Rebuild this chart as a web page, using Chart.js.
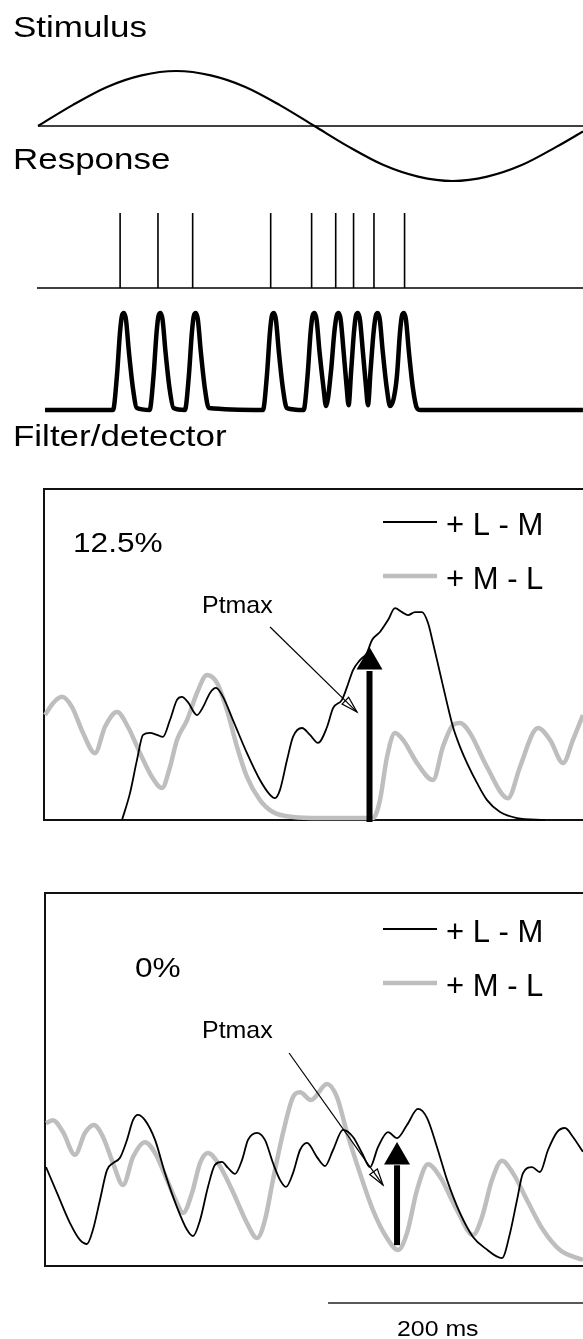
<!DOCTYPE html>
<html>
<head>
<meta charset="utf-8">
<style>
  html, body { margin: 0; padding: 0; background: #fff; }
  #fig { display: block; }
</style>
<script src="https://cdn.jsdelivr.net/npm/chart.js@4.4.1/dist/chart.umd.min.js"></script>
</head>
<body>
<canvas id="fig" width="583" height="1339"></canvas>
<script>
// stimulus: one cycle of the chromatic grating (relative amplitude)
var stimTimes = [0, 27.1, 54.2, 81.3, 108.4, 135.5, 162.6, 189.7, 216.8, 243.9, 271.0, 298.1, 325.2, 352.3, 379.4, 406.5, 427.4];
var stimValues = [0, 0.38, 0.71, 0.92, 1, 0.92, 0.71, 0.38, 0, -0.38, -0.71, -0.92, -1, -0.92, -0.71, -0.38, -0.1];

// spike times (ms)
var spikeTimes = [64.4, 94.1, 121.3, 182.5, 214.6, 233.5, 247.5, 263.5, 287.5];

// smoothed spike train
var respTimes = [5.5, 58.8, 61.9, 64.3, 65.8, 67.4, 69.0, 71.3, 74.5, 77.6,
  87.5, 90.6, 93.0, 94.5, 96.1, 97.7, 100.0, 103.2, 106.3,
  115.2, 118.3, 120.7, 122.2, 123.8, 125.4, 127.7, 130.9, 134.0,
  176.4, 179.5, 181.9, 183.4, 185.0, 186.6, 188.9, 192.1, 195.2,
  208.3, 211.4, 213.8, 215.3, 216.9, 218.5, 220.8, 224.0, 225.9,
  229.8, 232.4, 234.2, 235.8, 237.4, 239.7, 242.0, 243.6,
  245.6, 247.8, 249.3, 250.9, 252.5, 254.8, 257.2, 258.8,
  260.8, 263.2, 264.9, 266.5, 268.1, 270.4, 273.6, 276.2,
  279.0, 281.5, 283.9, 285.4, 287.0, 288.6, 290.9, 294.1, 297.2, 300.0, 427.4];
var respValues = [0, 0, 0.35, 0.8, 0.97, 1, 0.93, 0.6, 0.22, 0.02,
  0, 0.35, 0.8, 0.97, 1, 0.93, 0.6, 0.22, 0.02,
  0, 0.35, 0.8, 0.97, 1, 0.93, 0.6, 0.22, 0.02,
  0, 0.35, 0.8, 0.97, 1, 0.93, 0.6, 0.22, 0.02,
  0, 0.35, 0.8, 0.97, 1, 0.93, 0.6, 0.22, 0.04,
  0.4, 0.8, 0.97, 1, 0.93, 0.6, 0.25, 0.05,
  0.4, 0.8, 0.97, 1, 0.93, 0.6, 0.25, 0.05,
  0.4, 0.8, 0.97, 1, 0.93, 0.6, 0.22, 0.04,
  0.12, 0.35, 0.8, 0.97, 1, 0.93, 0.6, 0.22, 0.02, 0, 0];

// filter output, 12.5% condition
var lm125Times = [65.9, 72.2, 77.6, 82.4, 87.8, 93.3, 98.0, 103.5, 109.0, 112.9, 117.6, 124.7, 129.4, 134.9, 139.6,
  145.1, 152.9, 163.9, 174.1, 182.0, 185.9, 189.8, 195.3, 200.0, 207.1, 213.3, 219.6, 226.7, 231.4, 238.4,
  242.4, 247.1, 252.5, 258.0, 262.0, 268.2, 274.5, 280.0, 285.5, 290.2, 295.7, 301.2, 305.9, 309.8, 315.3,
  320.8, 325.5, 331.0, 336.5, 344.3, 352.2, 362.4, 375.7, 397.6];
var lm125 = [0, 0.082, 0.181, 0.257, 0.263, 0.257, 0.251, 0.302, 0.363, 0.372, 0.356, 0.317, 0.341, 0.384, 0.399,
  0.372, 0.302, 0.202, 0.121, 0.076, 0.066, 0.091, 0.181, 0.251, 0.278, 0.257, 0.233, 0.281, 0.338, 0.363,
  0.402, 0.453, 0.483, 0.505, 0.544, 0.568, 0.604, 0.640, 0.628, 0.619, 0.628, 0.628, 0.595, 0.535, 0.444,
  0.353, 0.281, 0.221, 0.172, 0.112, 0.060, 0.024, 0.006, 0];
var ml125Times = [5.5, 11.8, 18.8, 26.7, 35.3, 44.7, 52.5, 62.0, 70.6, 80.0, 89.4, 97.3, 103.5, 109.0, 116.9,
  124.7, 132.5, 140.4, 148.2, 156.1, 163.9, 174.1, 184.3, 200.0, 221.2, 262.7, 268.2, 273.7, 280.0, 286.3,
  297.3, 309.8, 317.6, 325.5, 331.0, 338.8, 352.2, 368.6, 378.0, 388.2, 392.2, 401.6, 411.8, 419.6, 427.4];
var ml125 = [0.317, 0.353, 0.372, 0.341, 0.263, 0.202, 0.281, 0.326, 0.281, 0.202, 0.130, 0.097, 0.160, 0.242, 0.302,
  0.384, 0.438, 0.414, 0.332, 0.221, 0.130, 0.060, 0.024, 0.009, 0.006, 0.006, 0.060, 0.190, 0.263, 0.242,
  0.172, 0.121, 0.221, 0.287, 0.293, 0.263, 0.160, 0.066, 0.160, 0.263, 0.278, 0.242, 0.172, 0.242, 0.317];

// filter output, 0% condition
var lm0Times = [6.3, 14.9, 25.1, 32.9, 38.4, 43.1, 48.6, 54.1, 58.8, 64.3, 69.8, 74.5, 78.4, 83.9, 91.8,
  99.6, 109.0, 116.9, 121.6, 127.1, 133.3, 138.8, 144.3, 149.0, 154.5, 160.0, 164.7, 171.8, 178.0, 184.3,
  189.8, 194.5, 200.0, 205.5, 211.0, 218.8, 225.1, 231.4, 239.2, 247.1, 254.1, 260.4, 266.7, 274.5, 281.6,
  289.4, 298.0, 305.1, 312.9, 320.8, 331.0, 341.2, 350.6, 363.9, 370.2, 375.7, 380.4, 387.5, 393.7, 400.0,
  407.1, 413.3, 419.6, 427.4];
var lm0 = [0.265, 0.196, 0.115, 0.070, 0.059, 0.097, 0.177, 0.257, 0.276, 0.290, 0.338, 0.391, 0.405, 0.391, 0.338,
  0.249, 0.158, 0.097, 0.080, 0.123, 0.212, 0.271, 0.279, 0.263, 0.247, 0.284, 0.338, 0.357, 0.338, 0.276,
  0.231, 0.212, 0.249, 0.311, 0.330, 0.292, 0.268, 0.311, 0.365, 0.346, 0.303, 0.265, 0.319, 0.359, 0.343,
  0.378, 0.421, 0.397, 0.319, 0.231, 0.142, 0.078, 0.048, 0.021, 0.088, 0.177, 0.249, 0.265, 0.252, 0.311,
  0.359, 0.370, 0.346, 0.306];
var ml0Times = [6.3, 11.8, 19.6, 29.0, 36.9, 43.9, 51.0, 58.8, 66.7, 74.5, 83.9, 91.8, 101.2, 109.0, 113.7,
  120.8, 127.1, 133.3, 141.2, 152.2, 163.9, 171.8, 178.0, 184.3, 192.2, 200.0, 205.5, 214.1, 226.7, 234.5,
  242.4, 252.5, 262.7, 273.7, 282.4, 289.4, 297.3, 305.9, 315.3, 328.6, 341.2, 348.2, 356.1, 363.9, 372.5,
  383.5, 396.1, 409.4, 427.4];
var ml0 = [0.383, 0.391, 0.359, 0.298, 0.357, 0.378, 0.346, 0.276, 0.217, 0.292, 0.332, 0.303, 0.231, 0.169, 0.142,
  0.196, 0.276, 0.303, 0.276, 0.204, 0.115, 0.075, 0.123, 0.231, 0.357, 0.453, 0.466, 0.445, 0.488, 0.453,
  0.357, 0.249, 0.150, 0.075, 0.043, 0.088, 0.204, 0.273, 0.239, 0.150, 0.083, 0.131, 0.231, 0.282, 0.249,
  0.177, 0.097, 0.043, 0.016];

// detected time of maximum (ms) for each condition
var ptmaxTimes = [260.0, 281.6];

var W = 583, H = 1339;
var X0 = 38, PX_PER_MS = 1.275;
var GRAY = '#bebebe';

// value 0 sits at zeroPx, value 1 at onePx
function band(zeroPx, onePx) {
  var k = zeroPx - onePx;
  return { type: 'linear', display: false, min: (zeroPx - H) / k, max: zeroPx / k };
}

function pts(xs, ys) {
  return xs.map(function(x, i) { return { x: x, y: ys[i] }; });
}

var spikePts = [];
spikeTimes.forEach(function(t) {
  spikePts.push({ x: t, y: 0 }, { x: t, y: 1 }, { x: t, y: null });
});

var xEnd = (W - X0) / PX_PER_MS;

var frames = [
  { left: 44, top: 489, bottom: 820 },
  { left: 45, top: 893, bottom: 1266 }
];

var labels = [
  ['Stimulus', 13, 37, 30, 1.165],
  ['Response', 13, 169, 30, 1.165],
  ['Filter/detector', 13, 446, 30, 1.165],
  ['12.5%', 73, 552, 28, 1.13],
  ['0%', 135, 977, 28, 1.13],
  ['Ptmax', 202, 613, 24, 1.04],
  ['Ptmax', 202, 1038, 24, 1.04],
  ['+ L - M', 446, 535, 31, 1.0],
  ['+ M - L', 446, 589, 31, 1.0],
  ['+ L - M', 446, 942, 31, 1.0],
  ['+ M - L', 446, 996, 31, 1.0],
  ['200 ms', 397, 1336, 22, 1.13]
];

var legendLines = [
  { y: 522, color: '#000', width: 2 },
  { y: 576, color: GRAY, width: 4.5 },
  { y: 929, color: '#000', width: 2 },
  { y: 983, color: GRAY, width: 4.5 }
];

var pointers = [
  { axis: 'yP1', from: [182.0, 0.583], to: [250.2, 0.326] },
  { axis: 'yP2', from: [196.9, 0.571], to: [270.6, 0.217] }
];

function drawText(ctx, t) {
  ctx.save();
  ctx.font = t[3] + 'px "Liberation Sans", Arial, sans-serif';
  ctx.fillStyle = '#000';
  ctx.textBaseline = 'alphabetic';
  ctx.translate(t[1], t[2]);
  ctx.scale(t[4], 1);
  ctx.fillText(t[0], 0, 0);
  ctx.restore();
}

var decor = {
  id: 'decor',
  beforeDatasetsDraw: function(chart) {
    var ctx = chart.ctx;
    ctx.save();
    ctx.strokeStyle = '#111';
    ctx.lineWidth = 2;
    frames.forEach(function(f) {
      ctx.beginPath();
      ctx.moveTo(W + 2, f.top);
      ctx.lineTo(f.left, f.top);
      ctx.lineTo(f.left, f.bottom);
      ctx.lineTo(W + 2, f.bottom);
      ctx.stroke();
    });
    ctx.restore();
  },
  afterDatasetsDraw: function(chart) {
    var ctx = chart.ctx;
    var xs = chart.scales.x;
    ctx.save();
    legendLines.forEach(function(l) {
      ctx.strokeStyle = l.color;
      ctx.lineWidth = l.width;
      ctx.beginPath();
      ctx.moveTo(383, l.y);
      ctx.lineTo(437, l.y);
      ctx.stroke();
    });

    // Ptmax pointers with open heads
    ctx.strokeStyle = '#000';
    ctx.lineWidth = 1.2;
    pointers.forEach(function(p) {
      var ys = chart.scales[p.axis];
      var x1 = xs.getPixelForValue(p.from[0]), y1 = ys.getPixelForValue(p.from[1]);
      var x2 = xs.getPixelForValue(p.to[0]), y2 = ys.getPixelForValue(p.to[1]);
      ctx.beginPath();
      ctx.moveTo(x1, y1);
      ctx.lineTo(x2, y2);
      ctx.stroke();
      var a = Math.atan2(y2 - y1, x2 - x1), L = 17, w = 0.28;
      ctx.beginPath();
      ctx.moveTo(x2, y2);
      ctx.lineTo(x2 - L * Math.cos(a - w), y2 - L * Math.sin(a - w));
      ctx.lineTo(x2 - L * Math.cos(a + w), y2 - L * Math.sin(a + w));
      ctx.closePath();
      ctx.stroke();
    });

    // 200 ms scale bar
    ctx.lineWidth = 1.5;
    ctx.strokeStyle = '#222';
    ctx.beginPath();
    ctx.moveTo(xs.getPixelForValue(227.5), 1303);
    ctx.lineTo(xs.getPixelForValue(427.5), 1303);
    ctx.stroke();
    ctx.restore();

    labels.forEach(function(t) { drawText(ctx, t); });
  }
};

var ctx = document.getElementById('fig').getContext('2d');

new Chart(ctx, {
  type: 'line',
  data: {
    datasets: [
      // Ptmax arrows (drawn on top)
      { data: [{ x: ptmaxTimes[0], y: 0.477 }], yAxisID: 'yP1', showLine: false, pointStyle: 'triangle',
        pointRadius: 15, pointBackgroundColor: '#000', pointBorderColor: '#000', pointBorderWidth: 0 },
      { data: [{ x: ptmaxTimes[0], y: -0.006 }, { x: ptmaxTimes[0], y: 0.45 }], yAxisID: 'yP1',
        borderColor: '#000', borderWidth: 6 },
      { data: [{ x: ptmaxTimes[1], y: 0.292 }], yAxisID: 'yP2', showLine: false, pointStyle: 'triangle',
        pointRadius: 15, pointBackgroundColor: '#000', pointBorderColor: '#000', pointBorderWidth: 0 },
      { data: [{ x: ptmaxTimes[1], y: 0.056 }, { x: ptmaxTimes[1], y: 0.27 }], yAxisID: 'yP2',
        borderColor: '#000', borderWidth: 6 },

      { label: '+L-M 12.5%', data: pts(lm125Times, lm125), yAxisID: 'yP1', borderColor: '#000', borderWidth: 1.8 },
      { label: '+M-L 12.5%', data: pts(ml125Times, ml125), yAxisID: 'yP1', borderColor: GRAY, borderWidth: 4.5 },
      { label: '+L-M 0%', data: pts(lm0Times, lm0), yAxisID: 'yP2', borderColor: '#000', borderWidth: 1.8 },
      { label: '+M-L 0%', data: pts(ml0Times, ml0), yAxisID: 'yP2', borderColor: GRAY, borderWidth: 4.5 },

      { label: 'smoothed', data: pts(respTimes, respValues), yAxisID: 'yBump', borderColor: '#000', borderWidth: 4.5 },
      { label: 'spikes', data: spikePts, yAxisID: 'yRaster', borderColor: '#000', borderWidth: 1.6,
        cubicInterpolationMode: 'default', tension: 0 },
      { data: [{ x: -0.8, y: 0 }, { x: xEnd, y: 0 }], yAxisID: 'yRaster', borderColor: '#000', borderWidth: 1.6 },
      { label: 'stimulus', data: pts(stimTimes, stimValues), yAxisID: 'yStim', borderColor: '#000', borderWidth: 2.2 },
      { data: [{ x: 0, y: 0 }, { x: xEnd, y: 0 }], yAxisID: 'yStim', borderColor: '#000', borderWidth: 1.6 }
    ]
  },
  options: {
    responsive: false,
    animation: false,
    devicePixelRatio: 1,
    events: [],
    layout: { padding: 0, autoPadding: false },
    plugins: { legend: { display: false }, tooltip: { enabled: false } },
    elements: {
      point: { radius: 0 },
      line: { cubicInterpolationMode: 'monotone', borderJoinStyle: 'round', borderCapStyle: 'butt' }
    },
    scales: {
      x: { type: 'linear', display: false, min: -X0 / PX_PER_MS, max: xEnd },
      yStim: band(126, 71),
      yRaster: band(288, 213),
      yBump: band(410, 313),
      yP1: band(820, 489),
      yP2: band(1266, 893)
    }
  },
  plugins: [decor]
});
</script>
</body>
</html>
